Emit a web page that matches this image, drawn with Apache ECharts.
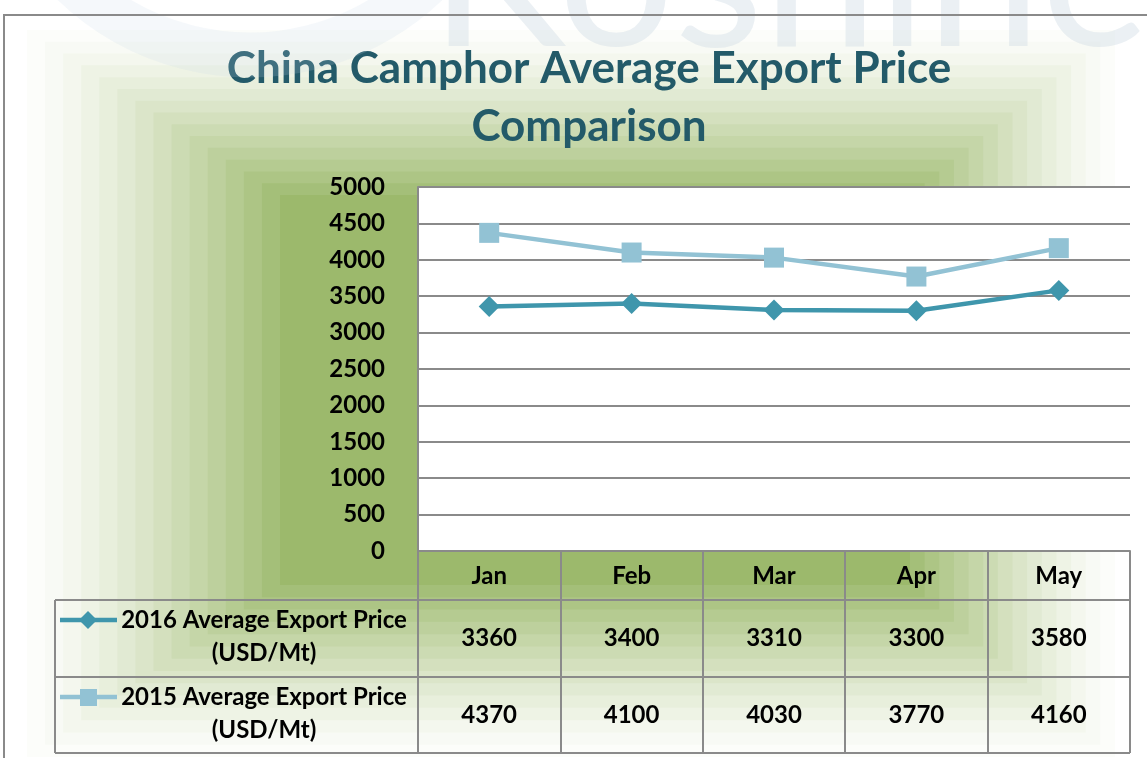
<!DOCTYPE html>
<html>
<head>
<meta charset="utf-8">
<script src="https://cdn.jsdelivr.net/npm/echarts@6/dist/echarts.min.js"></script>
<style>
  html, body { margin: 0; padding: 0; background: #fff; }
  #main { width: 1147px; height: 758px; }
</style>
</head>
<body>
<div id="main"></div>
<script>
// data
var months = ['Jan', 'Feb', 'Mar', 'Apr', 'May'];
var seriesNames = ['2016 Average Export Price', '2015 Average Export Price'];
var unitLabel = '(USD/Mt)';
var price2016 = [3360, 3400, 3310, 3300, 3580];
var price2015 = [4370, 4100, 4030, 3770, 4160];
var yMin = 0, yMax = 5000, yStep = 500;

var colors = ['#3f96ac', '#92c2d4'];
var gridColor = '#8a8a8a';
var font = 'Lato';
var fs = 24;

var chart = echarts.init(document.getElementById('main'));

chart.setOption({
  backgroundColor: '#fff',
  animation: false,
  title: {
    text: 'China Camphor Average Export Price\nComparison',
    left: 584,
    top: 35,
    textAlign: 'center',
    textStyle: { fontFamily: font, fontWeight: 'bold', fontSize: 44, lineHeight: 58, color: '#235a69' }
  },
  grid: {
    left: 418, top: 187, width: 712, height: 364,
    show: true, backgroundColor: '#fff', borderWidth: 0
  },
  xAxis: {
    type: 'category',
    data: months,
    boundaryGap: true,
    axisLine: { lineStyle: { color: gridColor, width: 2 } },
    axisTick: { show: true, length: 202, lineStyle: { color: gridColor, width: 2 } },
    axisLabel: { margin: 13, color: '#000', fontFamily: font, fontWeight: 'bold', fontSize: fs },
    splitLine: { show: false }
  },
  yAxis: {
    type: 'value',
    min: yMin, max: yMax, interval: yStep,
    axisLine: { show: true, lineStyle: { color: gridColor, width: 2 } },
    axisTick: { show: false },
    axisLabel: { margin: 33, color: '#000', fontFamily: font, fontWeight: 'bold', fontSize: fs,
      formatter: function (v) { return String(v); } },
    splitLine: { lineStyle: { color: gridColor, width: 2 } }
  },
  series: [
    {
      name: seriesNames[0], type: 'line', data: price2016,
      symbol: 'diamond', symbolSize: 21,
      lineStyle: { color: colors[0], width: 4.5 },
      itemStyle: { color: colors[0] }, z: 4
    },
    {
      name: seriesNames[1], type: 'line', data: price2015,
      symbol: 'rect', symbolSize: 20,
      lineStyle: { color: colors[1], width: 4.5 },
      itemStyle: { color: colors[1] }, z: 3
    }
  ]
});

// 背景渐变（方形分层）
var g = [];
var steps = 14;
var outer = [27, 30, 1115, 757], inner = [280, 195, 910, 585];
var c0 = [252, 253, 250], c1 = [156, 185, 108];
for (var i = 0; i <= steps; i++) {
  var t = i / steps;
  var x0 = outer[0] + (inner[0] - outer[0]) * t;
  var y0 = outer[1] + (inner[1] - outer[1]) * t;
  var x1 = outer[2] + (inner[2] - outer[2]) * t;
  var y1 = outer[3] + (inner[3] - outer[3]) * t;
  var tt = Math.pow(t, 1.25);
  var col = 'rgb(' + [0, 1, 2].map(function (k) { return Math.round(c0[k] + (c1[k] - c0[k]) * tt); }).join(',') + ')';
  g.push({ type: 'rect', z: -100 + i, silent: true,
    shape: { x: x0, y: y0, width: x1 - x0, height: y1 - y0 },
    style: { fill: col } });
}

// 水印
g.push({ type: 'arc', z: 50, silent: true,
  shape: { cx: 250, cy: -200, r: 255, startAngle: Math.PI * 0.08, endAngle: Math.PI * 0.92 },
  style: { stroke: 'rgba(200,218,234,0.18)', lineWidth: 45, fill: null } });
g.push({ type: 'text', z: 50, silent: true, x: 430, y: 82,
  style: { text: 'Koshine', font: '205px Lato', fill: 'rgba(205,217,228,0.4)', verticalAlign: 'bottom' } });

// 外框
g.push({ type: 'polyline', z: 60, silent: true,
  shape: { points: [[4, 758], [4, 15], [1147, 15]] },
  style: { stroke: '#8a8a8a', lineWidth: 2, fill: null } });

// 数据表
var rowTop = [600, 677], rowBottom = 753, tableLeft = 55, tableRight = 1130;
[600, 677, 753].forEach(function (y) {
  g.push({ type: 'line', z: 60, silent: true,
    shape: { x1: tableLeft, y1: y, x2: tableRight, y2: y },
    style: { stroke: gridColor, lineWidth: 2 } });
});
g.push({ type: 'line', z: 60, silent: true,
  shape: { x1: tableLeft, y1: 600, x2: tableLeft, y2: rowBottom },
  style: { stroke: gridColor, lineWidth: 2 } });

var rows = [price2016, price2015];
var symbols = ['diamond', 'rect'];
rows.forEach(function (vals, r) {
  var cy = rowTop[r] + 38;
  vals.forEach(function (v, i) {
    var cx = chart.convertToPixel({ xAxisIndex: 0 }, i);
    g.push({ type: 'text', z: 60, silent: true, x: cx, y: cy,
      style: { text: String(v), font: 'bold ' + fs + 'px Lato', fill: '#000', align: 'center', verticalAlign: 'middle' } });
  });
  // 图例文字
  g.push({ type: 'text', z: 60, silent: true, x: 264, y: cy - 1,
    style: { text: seriesNames[r] + '\n' + unitLabel, font: 'bold ' + fs + 'px Lato', fill: '#000',
      align: 'center', verticalAlign: 'middle', lineHeight: 33 } });
  // 图例符号
  var sy = cy - 18;
  g.push({ type: 'line', z: 60, silent: true,
    shape: { x1: 60, y1: sy, x2: 117, y2: sy },
    style: { stroke: colors[r], lineWidth: 4.5 } });
  if (symbols[r] === 'diamond') {
    g.push({ type: 'polygon', z: 61, silent: true,
      shape: { points: [[88, sy - 9], [97, sy], [88, sy + 9], [79, sy]] },
      style: { fill: colors[r] } });
  } else {
    g.push({ type: 'rect', z: 61, silent: true,
      shape: { x: 80, y: sy - 8, width: 17, height: 17 },
      style: { fill: colors[r] } });
  }
});

chart.setOption({ graphic: g });
</script>
</body>
</html>
